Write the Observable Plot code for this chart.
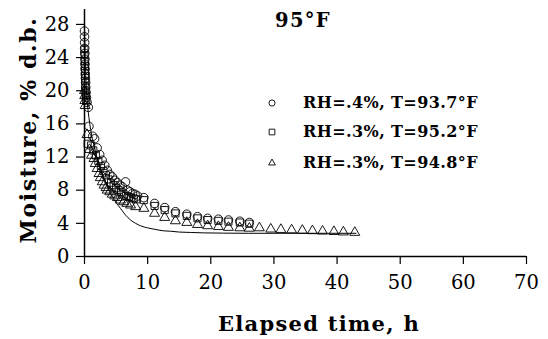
<!DOCTYPE html>
<html>
<head>
<meta charset="utf-8">
<script src="https://cdn.jsdelivr.net/npm/d3@7"></script>
<script src="https://cdn.jsdelivr.net/npm/@observablehq/plot@0.6"></script>
<style>
  html, body { margin: 0; padding: 0; background: #fff; }
  #wrap { position: relative; width: 548px; height: 339px; font-family: "DejaVu Serif", serif; color: #000; }
  #wrap svg.plot { position: absolute; left: 0; top: 0; }
  #wrap svg.plot text { font-family: "DejaVu Serif", serif !important; font-size: 19.5px !important; fill: #000; }
  .ov { position: absolute; white-space: nowrap; font-weight: bold; }
  #ytitle { left: 28px; top: 130px; font-size: 22px; letter-spacing: 1.6px; transform: translate(-50%, -50%) rotate(-90deg); }
  #xtitle { left: 319px; top: 323px; font-size: 21px; letter-spacing: 1.3px; transform: translate(-50%, -50%); }
  #title { left: 303px; top: 20px; font-size: 19.5px; letter-spacing: 1.3px; transform: translate(-50%, -50%); }
  .leg { position: absolute; left: 264px; font-size: 16px; letter-spacing: 0.4px; font-weight: bold; display: flex; align-items: center; white-space: nowrap; }
  .leg svg { width: 16px; height: 16px; margin-right: 23px; }
</style>
</head>
<body>
<div id="wrap"></div>
<script>
// Title and labels
const chartTitle = "95°F";
const xTitle = "Elapsed time, h";
const yTitle = "Moisture, % d.b.";
const seriesNames = ["RH=.4%, T=93.7°F", "RH=.3%, T=95.2°F", "RH=.3%, T=94.8°F"];
const seriesSymbols = ["circle", "square", "triangle"];
const xTicks = [0, 10, 20, 30, 40, 50, 60, 70];
const yTicks = [0, 4, 8, 12, 16, 20, 24, 28];

// Series 1 (circles): elapsed time h, moisture % d.b.
const s1Time = [0.00,0.00,0.02,0.03,0.05,0.07,0.08,0.10,0.12,0.15,0.18,0.20,0.25,0.30,0.40,0.60,0.70,1.30,1.60,2.00,2.40,2.80,3.20,3.60,4.00,4.40,4.80,5.20,5.60,6.00,6.50,6.80,7.20,7.60,8.00,8.40,9.40,11.1,12.7,14.4,16.2,17.9,19.5,21.2,22.8,24.6,26.1];
const s1Moist = [27.2,26.5,25.8,25.1,24.5,23.8,23.2,22.6,22.0,21.5,21.0,20.4,19.8,19.2,18.6,18.0,15.7,14.5,14.2,13.1,12.3,11.6,11.0,10.4,9.9,9.6,9.2,8.9,8.6,8.4,9.0,8.0,7.8,7.6,7.5,7.3,7.1,6.4,5.9,5.4,5.1,4.8,4.6,4.5,4.4,4.25,4.1];

// Series 2 (squares)
const s2Time = [0.00,0.02,0.04,0.06,0.08,0.10,0.12,0.15,0.18,0.22,0.28,0.50,1.05,1.40,1.80,2.20,2.60,3.00,3.40,3.80,4.20,4.60,5.00,5.40,5.80,6.20,6.60,7.00,7.40,7.80,8.20,9.40,11.1,12.7,14.4,16.2,17.9,19.5,21.2,22.8,24.6,26.1];
const s2Moist = [25.0,24.3,23.6,23.0,22.4,21.8,21.2,20.6,20.0,19.4,18.8,13.6,13.4,12.8,12.2,11.5,10.9,10.3,9.8,9.3,8.9,8.6,8.3,8.0,7.8,7.5,7.3,7.2,7.1,7.0,6.9,6.8,6.1,5.6,5.2,4.9,4.6,4.4,4.3,4.2,4.1,3.95];

// Series 3 (triangles)
const s3Time = [0.00,0.03,0.06,0.10,0.40,0.80,1.10,1.50,1.70,2.00,2.30,2.50,2.80,3.10,3.40,3.60,4.00,4.40,4.80,5.20,5.70,6.20,6.70,7.30,8.10,9.40,11.1,12.7,14.4,16.2,17.9,19.5,21.2,22.8,24.6,26.1,27.7,29.5,31.1,32.8,34.5,36.1,37.7,39.5,41.0,42.8];
const s3Moist = [20.0,19.4,18.8,18.2,14.7,12.9,12.2,11.8,11.2,10.6,10.0,9.5,9.0,8.6,8.3,8.0,7.8,7.5,7.3,7.1,6.8,6.6,6.4,6.2,6.0,5.8,5.2,4.7,4.3,4.1,3.85,3.7,3.6,3.5,3.45,3.4,3.45,3.3,3.25,3.2,3.15,3.1,3.05,3.0,2.95,2.9];

// Model curve (solid line)
const lineTime = [0,0.05,0.1,0.2,0.3,0.4,0.6,0.8,1.0,1.5,2.0,2.5,3.0,3.5,4.0,4.5,5.0,5.7,6.5,7.3,8.1,8.9,10.0,11.0,12.5,13.6,15.0,16.8,18.9,22,26,30,35,43];
const lineMoist = [27.5,25.5,23.8,21.6,20.0,18.9,17.4,16.2,15.2,13.4,11.9,10.6,9.5,8.6,7.8,7.1,6.5,5.8,5.0,4.4,4.0,3.7,3.45,3.3,3.1,3.05,2.95,2.9,2.85,2.82,2.8,2.8,2.8,2.8];

const toRows = (ts, ms) => ts.map((t, i) => ({t, m: ms[i]}));
const s1 = toRows(s1Time, s1Moist);
const s2 = toRows(s2Time, s2Moist);
const s3 = toRows(s3Time, s3Moist);
const model = toRows(lineTime, lineMoist);

const chart = Plot.plot({
  width: 548,
  height: 339,
  marginLeft: 84,
  marginRight: 22,
  marginTop: 9,
  marginBottom: 83,
  style: {fontFamily: "DejaVu Serif", fontSize: "19.5px", color: "#000", background: "#fff", overflow: "visible"},
  x: {domain: [0, 70]},
  y: {domain: [0, 29.8]},
  marks: [
    Plot.axisX({ticks: xTicks, tickSize: 8, tickPadding: 11, label: null, stroke: "#000", strokeWidth: 1.2}),
    Plot.axisY({ticks: yTicks, tickSize: 8, tickPadding: 7, label: null, stroke: "#000", strokeWidth: 1.2}),
    Plot.ruleX([0], {stroke: "#000", strokeWidth: 1.5}),
    Plot.ruleY([0], {stroke: "#000", strokeWidth: 1.5}),
    Plot.line(model, {x: "t", y: "m", curve: "monotone-x", stroke: "#000", strokeWidth: 1}),
    Plot.dot(s1, {x: "t", y: "m", symbol: () => seriesSymbols[0], r: 4.3, stroke: "#000", strokeWidth: 0.9, fill: "none"}),
    Plot.dot(s2, {x: "t", y: "m", symbol: () => seriesSymbols[1], r: 4.0, stroke: "#000", strokeWidth: 0.9, fill: "none"}),
    Plot.dot(s3, {x: "t", y: "m", symbol: () => seriesSymbols[2], r: 3.7, stroke: "#000", strokeWidth: 0.9, fill: "none"})
  ]
});
chart.classList.add("plot");

const wrap = document.getElementById("wrap");
wrap.appendChild(chart);

function addDiv(id, text) {
  const d = document.createElement("div");
  d.className = "ov"; d.id = id; d.textContent = text;
  wrap.appendChild(d);
}
addDiv("ytitle", yTitle);
addDiv("xtitle", xTitle);
addDiv("title", chartTitle);

const legTops = [93, 122, 153];
const legSizes = [30, 32, 20];
seriesNames.forEach((name, i) => {
  const row = document.createElement("div");
  row.className = "leg";
  row.style.top = legTops[i] + "px";
  const ns = "http://www.w3.org/2000/svg";
  const svg = document.createElementNS(ns, "svg");
  svg.setAttribute("viewBox", "-8 -8 16 16");
  const p = document.createElementNS(ns, "path");
  const sym = {circle: d3.symbolCircle, square: d3.symbolSquare, triangle: d3.symbolTriangle}[seriesSymbols[i]];
  p.setAttribute("d", d3.symbol(sym, legSizes[i])());
  p.setAttribute("fill", "none");
  p.setAttribute("stroke", "#000");
  p.setAttribute("stroke-width", "0.9");
  svg.appendChild(p);
  row.appendChild(svg);
  const span = document.createElement("span");
  span.textContent = name;
  row.appendChild(span);
  wrap.appendChild(row);
});
</script>
</body>
</html>
